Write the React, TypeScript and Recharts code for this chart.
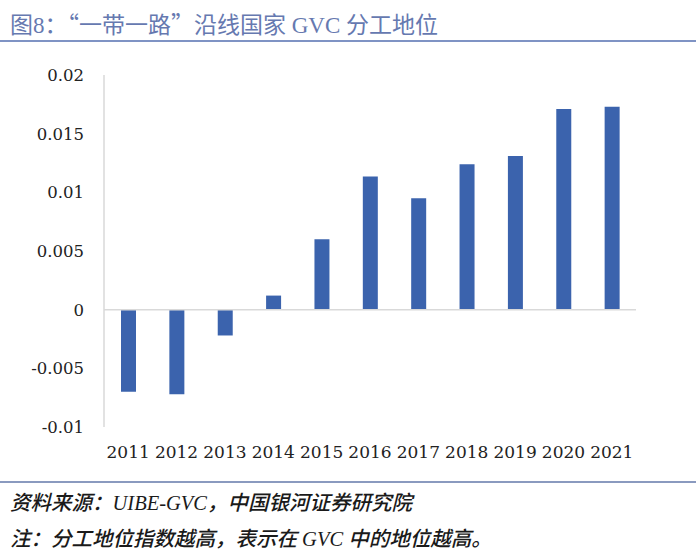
import { BarChart, Bar, XAxis, YAxis, ReferenceLine } from 'recharts'

const years = ['2011', '2012', '2013', '2014', '2015', '2016', '2017', '2018', '2019', '2020', '2021']
const gvcPosition = [-0.007, -0.0072, -0.0022, 0.0012, 0.006, 0.01135, 0.0095, 0.0124, 0.0131, 0.0171, 0.0173]
const yTicks = [-0.01, -0.005, 0, 0.005, 0.01, 0.015, 0.02]

const data = years.map((year, i) => ({ year, value: gvcPosition[i] }))

const SERIF = '"DejaVu Serif", "Noto Sans CJK SC", serif'
const CJK = '"Liberation Serif", "Noto Sans CJK SC", serif'
const CJK_ONLY = '"Noto Sans CJK SC", sans-serif'

export default function App() {
  return (
    <div style={{ position: 'absolute', left: 0, top: 0, width: 700, height: 558, background: '#fff', overflow: 'hidden' }}>
      <div style={{ position: 'absolute', left: 10, top: 6, fontFamily: CJK, fontSize: 23, color: '#6679b0', whiteSpace: 'nowrap' }}>
        图8<span style={{ fontFamily: CJK_ONLY }}>：“</span>一带一路<span style={{ fontFamily: CJK_ONLY }}>”</span>沿线国家 GVC 分工地位
      </div>
      <div style={{ position: 'absolute', left: 0, top: 40, width: 696, height: 2, background: '#7f93c4' }} />

      <div style={{ position: 'absolute', left: 0, top: 0 }}>
        <BarChart width={700} height={470} data={data} margin={{ top: 75, right: 64, bottom: 13, left: 14 }}>
          <XAxis
            dataKey="year"
            axisLine={false}
            tickLine={false}
            tickMargin={13}
            height={30}
            interval={0}
            tick={{ fill: '#222', fontSize: 17, fontFamily: SERIF }}
          />
          <YAxis
            domain={[-0.01, 0.02]}
            ticks={yTicks}
            width={90}
            axisLine={{ stroke: '#d9d9d9', strokeWidth: 1.5 }}
            tickLine={false}
            tickMargin={14}
            tickFormatter={(v: number) => String(v)}
            tick={{ fill: '#222', fontSize: 16.5, fontFamily: SERIF }}
          />
          <ReferenceLine y={0} stroke="#d9d9d9" strokeWidth={1.5} />
          <Bar dataKey="value" fill="#3b63ad" barSize={15} isAnimationActive={false} />
        </BarChart>
      </div>

      <div style={{ position: 'absolute', left: 0, top: 481, width: 696, height: 2, background: '#8a9abf' }} />
      <div style={{ position: 'absolute', left: 10, top: 486, fontFamily: CJK, fontSize: 20.5, fontWeight: 500, fontStyle: 'italic', color: '#1a1a1a', whiteSpace: 'nowrap' }}>
        资料来源：UIBE-GVC，中国银河证券研究院
      </div>
      <div style={{ position: 'absolute', left: 10, top: 522, fontFamily: CJK, fontSize: 20.5, fontWeight: 500, fontStyle: 'italic', color: '#1a1a1a', whiteSpace: 'nowrap' }}>
        注：分工地位指数越高，表示在 GVC 中的地位越高。
      </div>
    </div>
  )
}
